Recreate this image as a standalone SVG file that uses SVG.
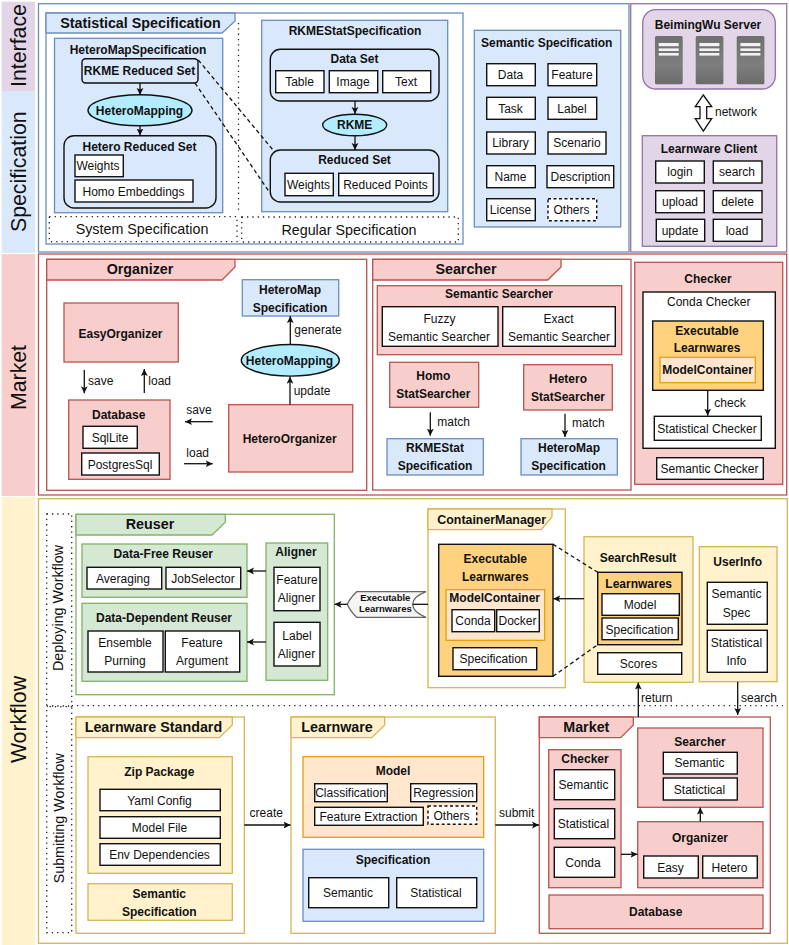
<svg xmlns="http://www.w3.org/2000/svg" width="789" height="945" viewBox="0 0 789 945">
<style>
text{font-family:"Liberation Sans",Arial,sans-serif;font-size:12px;fill:#111;text-anchor:middle}
.b{font-weight:bold}
.h{font-weight:bold;font-size:14.3px}
.l{text-anchor:start}
.side{font-size:21.3px}
.rot{font-size:14.3px}
.big{font-size:14.3px}
.sm{font-weight:bold;font-size:9.5px}
rect,polygon,ellipse{stroke-width:1.3}
.w{fill:#fff;stroke:#111;stroke-width:1.4}
.d{fill:#fff;stroke:#111;stroke-width:1.4;stroke-dasharray:3 2.5}
.r{fill:none;stroke:#111;stroke-width:1.4}
.blue{fill:#dae8fc;stroke:#6c8ebf}
.red{fill:#f8cecc;stroke:#b85450}
.gold{fill:#fff2cc;stroke:#d6b656}
.grn{fill:#d5e8d4;stroke:#82b366}
.pur{fill:#e1d5e7;stroke:#9673a6}
.peach{fill:#ffe6cc;stroke:#e3a008}
.org{fill:#ffd27f;stroke:#111;stroke-width:1.4}
.fb{fill:#fff;stroke:#6c8ebf}
.fr{fill:#fff;stroke:#b85450}
.fy{fill:#fff;stroke:#d6b656}
.fg{fill:#fff;stroke:#82b366}
.ell{fill:#b1ecff;stroke:#111;stroke-width:1.4}
.dot{fill:none;stroke:#222;stroke-width:1.3;stroke-dasharray:1.3 4}
.a{fill:none;stroke:#111;stroke-width:1.3;marker-end:url(#ah)}
.ln{fill:none;stroke:#111;stroke-width:1.3;stroke-dasharray:4 3}
</style>
<defs>
<marker id="ah" markerUnits="userSpaceOnUse" markerWidth="8" markerHeight="8" refX="7" refY="4" orient="auto">
<path d="M0,0.6 L7,4 L0,7.4 L1.6,4 Z" fill="#111"/>
</marker>
<linearGradient id="rack" x1="0" y1="0" x2="0" y2="1">
<stop offset="0" stop-color="#6f6f6f"/><stop offset="0.6" stop-color="#7e7e7e"/><stop offset="1" stop-color="#6a6a6a"/>
</linearGradient>
<g id="server-unit">
<rect width="27.7" height="48.3" rx="1.5" fill="url(#rack)" stroke="none"/>
<rect x="3.7" y="7" width="20" height="3.2" fill="#f2f2f2" stroke="none"/>
<rect x="3.7" y="12.4" width="20" height="2.6" fill="#f2f2f2" stroke="none"/>
<rect x="3.7" y="17" width="20" height="2.6" fill="#f2f2f2" stroke="none"/>
</g>
</defs>
<rect width="789" height="945" fill="#fff"/>

<!-- layer bands down the left edge -->
<g id="bands">
<rect x="1.7" y="1.7" width="33.3" height="90" fill="#e1d5e7" stroke="none"/>
<rect x="1.7" y="92" width="33.3" height="161" fill="#dae8fc" stroke="none"/>
<rect x="1.7" y="254" width="33.3" height="242" fill="#f8cecc" stroke="none"/>
<rect x="1.7" y="497" width="33.3" height="448" fill="#fff2cc" stroke="none"/>
<text class="side" transform="translate(25.5 45.5) rotate(-90)">Interface</text>
<text class="side" transform="translate(25.5 171.7) rotate(-90)">Specification</text>
<text class="side" transform="translate(25.5 377.5) rotate(-90)">Market</text>
<text class="side" transform="translate(25.5 719.5) rotate(-90)">Workflow</text>
</g>

<!-- layer frames -->
<g id="frames">
<rect x="38.5" y="3.7" width="590.5" height="248.3" class="fb"/>
<rect x="630.7" y="3.7" width="156" height="248.3" fill="#fff" stroke="#9673a6"/>
<rect x="38.5" y="254" width="748.2" height="241" class="fr"/>
<rect x="38.5" y="498.7" width="748.8" height="444.6" class="fy"/>
</g>

<g id="statistical-specification">
<rect x="46" y="13" width="417" height="231" class="fb"/>
<polygon points="46,13 235,13 235,21 222,33 46,33" class="blue"/>
<text class="h" x="140.5" y="27.5">Statistical Specification</text>
</g>

<g id="hetero-map-specification">
<rect x="54.5" y="38.3" width="168.2" height="174.4" class="blue"/>
<text class="b" x="138" y="53.5">HeteroMapSpecification</text>
</g>
<g id="rkme-reduced-set">
<rect x="82" y="58.7" width="116" height="24.3" rx="3.5" class="r"/>
<text class="b" x="139.5" y="75.3">RKME Reduced Set</text>
</g>
<g id="hetero-mapping-a">
<ellipse cx="140" cy="110.3" rx="52" ry="15.5" class="ell"/>
<text class="b" x="139.5" y="115">HeteroMapping</text>
</g>
<g id="hetero-reduced-set">
<rect x="64" y="135.7" width="152" height="72.3" rx="10" class="r"/>
<text class="b" x="139.5" y="151">Hetero Reduced Set</text>
<rect x="75" y="155" width="48.3" height="21.7" class="w"/>
<text x="98" y="170.3">Weights</text>
<rect x="75" y="180" width="118" height="22" class="w"/>
<text x="133.5" y="195.5">Homo Embeddings</text>
</g>

<g id="rkme-stat-specification">
<rect x="261.7" y="20.3" width="186" height="191.4" class="blue"/>
<text class="b" x="355" y="34.5">RKMEStatSpecification</text>
</g>
<g id="data-set">
<rect x="270.3" y="49.3" width="168.7" height="51.7" rx="10" class="r"/>
<text class="b" x="354.5" y="63">Data Set</text>
<rect x="275.7" y="70.7" width="48.3" height="22" class="w"/><text x="299.5" y="86">Table</text>
<rect x="329.3" y="70.7" width="48.4" height="22" class="w"/><text x="353" y="86">Image</text>
<rect x="382.7" y="70.7" width="48" height="22" class="w"/><text x="406" y="86">Text</text>
</g>
<g id="rkme">
<ellipse cx="354.7" cy="125" rx="32" ry="10.7" class="ell"/>
<text class="b" x="354.7" y="129.3">RKME</text>
</g>
<g id="reduced-set">
<rect x="270.3" y="150" width="168.7" height="52" rx="10" class="r"/>
<text class="b" x="354.5" y="164.3">Reduced Set</text>
<rect x="285" y="173.3" width="48.3" height="22.4" class="w"/><text x="308.5" y="189">Weights</text>
<rect x="338.7" y="173.3" width="94.6" height="22.4" class="w"/><text x="385.5" y="189">Reduced Points</text>
</g>

<g id="system-specification">
<rect x="49.3" y="216.7" width="187.7" height="25" class="dot"/>
<text class="big" x="142" y="234">System Specification</text>
</g>
<g id="regular-specification">
<rect x="241.7" y="217" width="216.6" height="25" class="dot"/>
<text class="big" x="349" y="235">Regular Specification</text>
</g>

<g id="semantic-specification">
<rect x="474.3" y="30.3" width="146.4" height="196.7" class="blue"/>
<text class="b" x="546.7" y="46.5">Semantic Specification</text>
<rect x="486.7" y="63.7" width="48.6" height="22" class="w"/><text x="510.5" y="79">Data</text>
<rect x="548" y="63.7" width="48.7" height="22" class="w"/><text x="572" y="79">Feature</text>
<rect x="486.7" y="97.3" width="48.6" height="22" class="w"/><text x="510.5" y="112.5">Task</text>
<rect x="548" y="97.3" width="48.7" height="22" class="w"/><text x="572" y="112.5">Label</text>
<rect x="486.7" y="132" width="48.6" height="22" class="w"/><text x="510.5" y="147.3">Library</text>
<rect x="548" y="132" width="58" height="22" class="w"/><text x="577" y="147.3">Scenario</text>
<rect x="486.7" y="165.7" width="48.6" height="22" class="w"/><text x="510.5" y="181">Name</text>
<rect x="547" y="165.7" width="66.7" height="22" class="w"/><text x="580.5" y="181">Description</text>
<rect x="486.7" y="198.7" width="48.6" height="22" class="w"/><text x="510.5" y="214">License</text>
<rect x="548" y="198.7" width="48.7" height="22" class="d"/><text x="571.5" y="214">Others</text>
</g>

<g id="beimingwu-server">
<rect x="642.7" y="9.7" width="132.6" height="79.3" rx="13" class="pur"/>
<text class="b" x="708" y="29">BeimingWu Server</text>
<use href="#server-unit" x="655" y="36"/>
<use href="#server-unit" x="695.7" y="36"/>
<use href="#server-unit" x="736.7" y="36"/>
</g>
<g id="network-link">
<polygon points="703.3,95 711.7,106.7 706.7,106.7 706.7,118.7 711.7,118.7 703.3,131 695.3,118.7 700,118.7 700,106.7 695.3,106.7" fill="#fff" stroke="#111"/>
<text class="l" x="715" y="116">network</text>
</g>
<g id="learnware-client">
<rect x="642.3" y="135.7" width="134.4" height="110.6" class="pur"/>
<text class="b" x="709" y="152.5">Learnware Client</text>
<rect x="655.7" y="161" width="48.6" height="22" class="w"/><text x="680" y="176.3">login</text>
<rect x="713.3" y="161" width="48.7" height="22" class="w"/><text x="737" y="176.3">search</text>
<rect x="655.7" y="190.7" width="48.6" height="22" class="w"/><text x="680" y="206">upload</text>
<rect x="713.3" y="190.7" width="48.7" height="22" class="w"/><text x="737.5" y="206">delete</text>
<rect x="656.3" y="219.3" width="48.4" height="22" class="w"/><text x="680" y="235">update</text>
<rect x="713.3" y="219.3" width="48.7" height="22" class="w"/><text x="737" y="235">load</text>
</g>

<g id="market-organizer">
<rect x="46.7" y="259.3" width="320" height="231" class="fr"/>
<polygon points="46.7,259.3 235,259.3 235,267 222,280 46.7,280" class="red"/>
<text class="h" x="140" y="273.5">Organizer</text>
</g>
<g id="easy-organizer">
<rect x="64" y="303" width="114.3" height="59" class="red"/>
<text class="b" x="120.5" y="337.5">EasyOrganizer</text>
</g>
<g id="database">
<rect x="68.7" y="400" width="101.3" height="79.3" class="red"/>
<text class="b" x="118.7" y="419">Database</text>
<rect x="83" y="426.3" width="54.3" height="22" class="w"/><text x="110" y="441.5">SqlLite</text>
<rect x="81.7" y="453" width="77.6" height="22" class="w"/><text x="120" y="468.5">PostgresSql</text>
</g>
<g id="hetero-organizer">
<rect x="228.7" y="404.7" width="124" height="67.3" class="red"/>
<text class="b" x="289.7" y="443">HeteroOrganizer</text>
</g>
<g id="hetero-mapping-b">
<ellipse cx="290.3" cy="360.3" rx="49" ry="15.8" class="ell"/>
<text class="b" x="289.5" y="365">HeteroMapping</text>
</g>
<g id="organizer-hetero-map-spec">
<rect x="242.3" y="279.7" width="96.4" height="36.3" class="blue"/>
<text class="b" x="290" y="294">HeteroMap</text>
<text class="b" x="290" y="311.7">Specification</text>
</g>

<g id="market-searcher">
<rect x="372.7" y="259.3" width="258.3" height="230.7" class="fr"/>
<polygon points="372.7,259.3 561,259.3 561,267 547.7,280 372.7,280" class="red"/>
<text class="h" x="466" y="273.5">Searcher</text>
</g>
<g id="semantic-searcher">
<rect x="377.3" y="285.7" width="244.4" height="69" class="red"/>
<text class="b" x="499" y="298.3">Semantic Searcher</text>
<rect x="382.3" y="306.7" width="115.7" height="39.6" class="w"/>
<text x="439.5" y="322.7">Fuzzy</text><text x="439" y="340.7">Semantic Searcher</text>
<rect x="502.7" y="306.7" width="112.6" height="39.6" class="w"/>
<text x="558.5" y="322.7">Exact</text><text x="559" y="340.7">Semantic Searcher</text>
</g>
<g id="homo-stat-searcher">
<rect x="389.7" y="362.3" width="89" height="45" class="red"/>
<text class="b" x="433.3" y="380.3">Homo</text><text class="b" x="433.3" y="398">StatSearcher</text>
</g>
<g id="hetero-stat-searcher">
<rect x="523.7" y="364.7" width="88.6" height="45.3" class="red"/>
<text class="b" x="568" y="382.7">Hetero</text><text class="b" x="568" y="400.7">StatSearcher</text>
</g>
<g id="rkme-stat-spec-node">
<rect x="387" y="438.7" width="96.3" height="36.3" class="blue"/>
<text class="b" x="435" y="452.3">RKMEStat</text><text class="b" x="435" y="470">Specification</text>
</g>
<g id="hetero-map-spec-node">
<rect x="521" y="438.7" width="96.3" height="36.3" class="blue"/>
<text class="b" x="569" y="452.3">HeteroMap</text><text class="b" x="568.5" y="470">Specification</text>
</g>

<g id="market-checker">
<rect x="634.7" y="262.3" width="148" height="222" class="red"/>
<text class="b" x="708" y="283.3">Checker</text>
<rect x="643" y="292" width="132.3" height="156.3" class="w"/>
<text x="708.7" y="305.7">Conda Checker</text>
<rect x="652.7" y="321" width="110.6" height="69.3" class="org"/>
<text class="b" x="707" y="334.7">Executable</text><text class="b" x="707" y="351.7">Learnwares</text>
<rect x="660" y="357.3" width="95.3" height="25.4" class="peach"/>
<text class="b" x="707.5" y="374">ModelContainer</text>
<rect x="654.3" y="416.3" width="107" height="24" class="w"/>
<text x="707" y="433">Statistical Checker</text>
<rect x="656.7" y="457.7" width="106.6" height="21.6" class="w"/>
<text x="709.5" y="473">Semantic Checker</text>
</g>

<!-- deploying workflow -->
<g id="workflow-lanes">
<rect x="46.7" y="514" width="25" height="192.7" class="dot"/>
<rect x="46.7" y="706" width="25" height="226.7" class="dot"/>
<path d="M71.7 705.7H783" class="dot"/>
<text class="rot" transform="translate(63 608) rotate(-90)">Deploying Workflow</text>
<text class="rot" transform="translate(63.5 818.3) rotate(-90)">Submitting Workflow</text>
</g>
<g id="reuser">
<rect x="76" y="514.3" width="258.3" height="180.4" class="fg"/>
<polygon points="76,514.3 225.3,514.3 225.3,522.3 212,535 76,535" class="grn"/>
<text class="h" x="150" y="529">Reuser</text>
</g>
<g id="data-free-reuser">
<rect x="82" y="544" width="165" height="53.3" class="grn"/>
<text class="b" x="163.3" y="557.7">Data-Free Reuser</text>
<rect x="87" y="567.3" width="74.7" height="21.7" class="w"/><text x="123" y="582.5">Averaging</text>
<rect x="166" y="567.3" width="74.7" height="21.7" class="w"/><text x="203" y="582.5">JobSelector</text>
</g>
<g id="data-dependent-reuser">
<rect x="82" y="603.3" width="165" height="78" class="grn"/>
<text class="b" x="164" y="621.7">Data-Dependent Reuser</text>
<rect x="88" y="631" width="75" height="41" class="w"/>
<text x="125" y="646.7">Ensemble</text><text x="125" y="665">Purning</text>
<rect x="165.3" y="631" width="74.4" height="41" class="w"/>
<text x="202" y="646.7">Feature</text><text x="202" y="665">Argument</text>
</g>
<g id="aligner">
<rect x="266" y="543" width="61.7" height="137.3" class="grn"/>
<text class="b" x="296" y="555.7">Aligner</text>
<rect x="274" y="567.3" width="46" height="43.4" class="w"/>
<text x="297" y="584.3">Feature</text><text x="296.5" y="602.3">Aligner</text>
<rect x="274" y="622.3" width="46" height="43.7" class="w"/>
<text x="297" y="639.7">Label</text><text x="296.5" y="658">Aligner</text>
</g>
<g id="executable-learnwares-tag">
<path d="M347.3 604.3Q350 598 356.7 591.7H426Q412.7 597 412.7 604.3Q412.7 612 426 617.3H356.7Q350 611 347.3 604.3Z" fill="#f5f5f5" stroke="#666" stroke-width="1.3"/>
<text class="sm" x="385.3" y="601.2">Executable</text>
<text class="sm" x="385.3" y="612.2">Learnwares</text>
</g>
<g id="container-manager">
<rect x="428" y="509" width="137.3" height="178.7" class="fy"/>
<polygon points="428,509 552,509 552,516.7 541.3,529.7 428,529.7" class="gold"/>
<text class="b l" x="437.3" y="524" style="font-size:12.4px">ContainerManager</text>
</g>
<g id="executable-learnwares">
<rect x="438.7" y="544.3" width="114.3" height="132" class="org"/>
<text class="b" x="495.3" y="562.7">Executable</text><text class="b" x="495.3" y="580.7">Learnwares</text>
<rect x="446" y="589.7" width="98.7" height="50.6" class="peach"/>
<text class="b" x="494.7" y="602.3">ModelContainer</text>
<rect x="452" y="609.7" width="42.7" height="22" class="w"/><text x="473" y="625">Conda</text>
<rect x="496.7" y="609.7" width="42.6" height="22" class="w"/><text x="517.5" y="625">Docker</text>
<rect x="453" y="647.7" width="83.7" height="22" class="w"/><text x="493.5" y="663">Specification</text>
</g>
<g id="search-result">
<rect x="584" y="536.7" width="109" height="145.6" class="gold"/>
<text class="b" x="638" y="561.7">SearchResult</text>
<rect x="597.7" y="572.3" width="84.3" height="72.4" class="org"/>
<text class="b" x="638.7" y="587.7">Learnwares</text>
<rect x="602" y="593.7" width="77.3" height="21.6" class="w"/><text x="640" y="609">Model</text>
<rect x="602" y="618" width="76.3" height="21.7" class="w"/><text x="639.5" y="634">Specification</text>
<rect x="597.7" y="652.7" width="84" height="21.6" class="w"/><text x="638.5" y="668">Scores</text>
</g>
<g id="user-info">
<rect x="699.3" y="546.7" width="77.7" height="135" class="gold"/>
<text class="b" x="737.7" y="566">UserInfo</text>
<rect x="707.3" y="582.3" width="60" height="42" class="w"/>
<text x="736.5" y="598.3">Semantic</text><text x="736.5" y="616.7">Spec</text>
<rect x="707.3" y="630.3" width="60" height="42" class="w"/>
<text x="736.5" y="646.7">Statistical</text><text x="736.5" y="665">Info</text>
</g>

<!-- submitting workflow -->
<g id="learnware-standard">
<rect x="76" y="717" width="168.3" height="216.3" class="fy"/>
<polygon points="76,717 232.3,717 232.3,725 219.3,737.7 76,737.7" class="gold"/>
<text class="h l" x="84.7" y="732">Learnware Standard</text>
<rect x="88" y="756.7" width="144.3" height="116.6" class="gold"/>
<text class="b" x="159.3" y="776">Zip Package</text>
<rect x="100" y="789.3" width="120.3" height="21.4" class="w"/><text x="159.5" y="804.5">Yaml Config</text>
<rect x="100" y="816.7" width="120.3" height="21.6" class="w"/><text x="159.5" y="832">Model File</text>
<rect x="100" y="843.7" width="120.3" height="21.6" class="w"/><text x="159.5" y="858.5">Env Dependencies</text>
<rect x="88" y="883.7" width="144.3" height="36.6" class="gold"/>
<text class="b" x="159.3" y="897.7">Semantic</text><text class="b" x="159.3" y="916">Specification</text>
</g>
<g id="learnware">
<rect x="291" y="717" width="204.3" height="216.3" class="fy"/>
<polygon points="291,717 384.7,717 384.7,725 371.7,737.7 291,737.7" class="gold"/>
<text class="h l" x="301.3" y="732">Learnware</text>
<rect x="303" y="756.7" width="180.7" height="80.6" class="peach"/>
<text class="b" x="393" y="775.3">Model</text>
<rect x="314.7" y="783.7" width="72.6" height="18" class="w"/><text x="350.5" y="797">Classification</text>
<rect x="410.7" y="783.7" width="66" height="18" class="w"/><text x="443.5" y="797">Regression</text>
<rect x="314.7" y="807.3" width="108.6" height="18" class="w"/><text x="368.5" y="821">Feature Extraction</text>
<rect x="428" y="806" width="48.7" height="18.3" class="d"/><text x="451.5" y="820">Others</text>
<rect x="303" y="849.3" width="180.7" height="72" class="blue"/>
<text class="b" x="393" y="864.3">Specification</text>
<rect x="308.7" y="877.7" width="80" height="30" class="w"/><text x="348" y="896.5">Semantic</text>
<rect x="396.7" y="877.7" width="80" height="30" class="w"/><text x="436" y="896.5">Statistical</text>
</g>
<g id="market-overview">
<rect x="539.3" y="717" width="231" height="216.3" class="fr"/>
<polygon points="539.3,717 633.3,717 633.3,725 620.7,737.7 539.3,737.7" class="red"/>
<text class="h" x="586.3" y="732">Market</text>
</g>
<g id="overview-checker">
<rect x="548.7" y="749.7" width="72.3" height="138" class="red"/>
<text class="b" x="585" y="763">Checker</text>
<rect x="554.3" y="769.7" width="60.4" height="30" class="w"/><text x="583.5" y="788.5">Semantic</text>
<rect x="554.3" y="808.7" width="60.4" height="30" class="w"/><text x="583.5" y="828">Statistical</text>
<rect x="554.3" y="847.3" width="60.4" height="30" class="w"/><text x="583" y="866.5">Conda</text>
</g>
<g id="overview-searcher">
<rect x="637.7" y="728" width="125.3" height="79.3" class="red"/>
<text class="b" x="700" y="746">Searcher</text>
<rect x="663.3" y="752.3" width="74" height="21.7" class="w"/><text x="699.5" y="767">Semantic</text>
<rect x="663.3" y="778" width="74" height="22" class="w"/><text x="699.5" y="793.5">Statictical</text>
</g>
<g id="overview-organizer">
<rect x="637.7" y="821.7" width="125.3" height="66" class="red"/>
<text class="b" x="700" y="842.3">Organizer</text>
<rect x="643.7" y="856" width="54.6" height="22" class="w"/><text x="670.5" y="871.5">Easy</text>
<rect x="702.7" y="856" width="54.6" height="22" class="w"/><text x="729.5" y="871.5">Hetero</text>
</g>
<g id="overview-database">
<rect x="549" y="895" width="214" height="33.7" class="red"/>
<text class="b" x="655.7" y="916">Database</text>
</g>

<!-- connectors and their labels -->
<g id="connectors">
<path class="dot" d="M238.5 23V213"/>
<path class="ln" d="M198.3 60L273 150"/>
<path class="ln" d="M195 83L270 193"/>
<path class="a" d="M140 83V95"/>
<path class="a" d="M140 126V135.5"/>
<path class="a" d="M355 101V114"/>
<path class="a" d="M355 136V150"/>
<path class="a" d="M84.3 370V393.3"/>
<path class="a" d="M144.3 393V369"/>
<path class="a" d="M212.7 421.7H185"/>
<path class="a" d="M184 463.7H212.7"/>
<path class="a" d="M290 404.7V376.7"/>
<path class="a" d="M290.3 344V316"/>
<path class="a" d="M430.3 412.3V435.7"/>
<path class="a" d="M565 413.7V437"/>
<path class="a" d="M707.7 390.3V415.7"/>
<path class="a" d="M266 571H247"/>
<path class="a" d="M266 642H247"/>
<path class="a" d="M347.3 604.3H334.5"/>
<path d="M412.7 604.3H428" fill="none" stroke="#111" stroke-width="1.3"/>
<path class="ln" d="M553 544.3L597.7 572.3"/>
<path class="ln" d="M553 676.3L597.7 644.7"/>
<path class="a" d="M584 598.7H553.3"/>
<path class="a" d="M638.3 717V682.5"/>
<path class="a" d="M737.7 681.7V715"/>
<path class="a" d="M244.3 825H290.5"/>
<path class="a" d="M495.3 825H539"/>
<path class="a" d="M621 854.3H637.5"/>
<path class="a" d="M700.3 821.7V807.5"/>
<text class="l" x="88" y="385">save</text>
<text class="l" x="148.3" y="385">load</text>
<text x="199" y="414">save</text>
<text x="197.7" y="457.3">load</text>
<text class="l" x="293.7" y="394.7">update</text>
<text class="l" x="294.3" y="333.7">generate</text>
<text class="l" x="437.3" y="425.7">match</text>
<text class="l" x="572" y="427">match</text>
<text class="l" x="714.3" y="407">check</text>
<text class="l" x="641" y="701.7">return</text>
<text class="l" x="741" y="701.7">search</text>
<text x="266.3" y="817.3">create</text>
<text x="516.7" y="817.3">submit</text>
</g>
</svg>
